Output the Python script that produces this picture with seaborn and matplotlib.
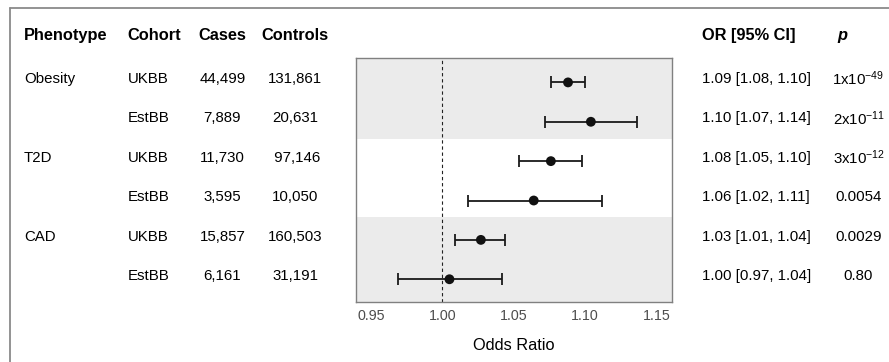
import numpy as np
import pandas as pd
import seaborn as sns
import matplotlib.pyplot as plt
from matplotlib import transforms
from matplotlib.lines import Line2D

# data
phenotype = ["Obesity", "", "T2D", "", "CAD", ""]
cohort = ["UKBB", "EstBB", "UKBB", "EstBB", "UKBB", "EstBB"]
cases = ["44,499", "7,889", "11,730", "3,595", "15,857", "6,161"]
controls = ["131,861", "20,631", " 97,146", "10,050", "160,503", "31,191"]
odds = [1.088, 1.104, 1.076, 1.064, 1.027, 1.005]
lower = [1.076, 1.072, 1.054, 1.018, 1.009, 0.969]
upper = [1.100, 1.136, 1.098, 1.112, 1.044, 1.042]
or_text = ["1.09 [1.08, 1.10]", "1.10 [1.07, 1.14]", "1.08 [1.05, 1.10]",
           "1.06 [1.02, 1.11]", "1.03 [1.01, 1.04]", "1.00 [0.97, 1.04]"]
p_text = ["1x10$^{-49}$", "2x10$^{-11}$", "3x10$^{-12}$", "0.0054", "0.0029", "0.80"]
xticks = [0.95, 1.00, 1.05, 1.10, 1.15]

dat = pd.DataFrame({"odds": odds, "lower": lower, "upper": upper})
dat["row"] = np.arange(len(dat), 0, -1)

sns.set_theme(style="white")
plt.rcParams["font.family"] = ["Liberation Sans", "DejaVu Sans"]
plt.rcParams["text.color"] = "black"
plt.rcParams["mathtext.fontset"] = "custom"
plt.rcParams["mathtext.rm"] = "Liberation Sans"
plt.rcParams["mathtext.default"] = "regular"

fig = plt.figure(figsize=(8.89, 3.62), dpi=100)

# forest panel
ax = fig.add_axes([0.4008, 0.1666, 0.3548, 0.6732])
ax.axhspan(4.56, 7, color="#ebebeb", lw=0, zorder=0)
ax.axhspan(0, 2.58, color="#ebebeb", lw=0, zorder=0)
ax.axvline(1.0, color="#222222", lw=0.8, ls=(0, (3, 2.5)), zorder=1)
ax.errorbar(dat.odds, dat.row, xerr=[dat.odds - dat.lower, dat.upper - dat.odds],
            fmt="none", ecolor="#1a1a1a", elinewidth=1.3, capsize=4, capthick=1.3, zorder=2)
sns.scatterplot(data=dat, x="odds", y="row", color="#111111", s=50,
                edgecolor="none", zorder=3, ax=ax)
ax.set_xlim(0.9398, 1.1606)
ax.set_ylim(0.43, 6.62)
ax.set_xticks(xticks)
ax.set_xticklabels([f"{t:.2f}" for t in xticks])
ax.set_yticks(dat.row)
ax.set_yticklabels([])
ax.set_ylabel("")
ax.set_xlabel("Odds Ratio", fontsize=11.8, color="black", labelpad=11)
ax.tick_params(axis="both", length=3, width=0.8, color="#444444",
               labelsize=10.3, labelcolor="#4d4d4d", pad=2)
for s in ax.spines.values():
    s.set_color("#808080")
    s.set_linewidth(1.0)

# table text
tax = fig.add_axes([0, 0, 1, 1], zorder=-1)
tax.axis("off")
tax.set_ylim(1 - (362 - 276) / 39.3, 6 + 79 / 39.3)
tr = transforms.blended_transform_factory(fig.transFigure, tax.transData)
head_y = 6 + (79 - 35) / 39.3
fs = 10.8
hfs = 11.8

cols = [
    ("Phenotype", phenotype, 24 / 889, "left"),
    ("Cohort", cohort, 127.5 / 889, "left"),
    ("Cases", cases, 222.5 / 889, "center"),
    ("Controls", controls, 295 / 889, "center"),
    ("OR [95% CI]", or_text, 702.3 / 889, "left"),
]
for head, vals, x, ha in cols:
    tax.text(x, head_y, head, transform=tr, ha=ha, va="center",
             fontsize=hfs, fontweight="bold", color="black")
    for r, v in zip(dat.row, vals):
        tax.text(x, r, v, transform=tr, ha=ha, va="center", fontsize=fs, color="black")

tax.text(837 / 889, head_y, "p", transform=tr, ha="left", va="center",
         fontsize=hfs, fontweight="bold", fontstyle="italic", color="black")
for r, v in zip(dat.row, p_text):
    tax.text(858.5 / 889, r, v, transform=tr, ha="center", va="center",
             fontsize=fs, color="black")

# outer frame (top and left edges)
fig.add_artist(Line2D([9.5 / 889, 9.5 / 889], [0, 1 - 8 / 362], color="#8a8a8a", lw=1.3))
fig.add_artist(Line2D([9.5 / 889, 1], [1 - 8 / 362, 1 - 8 / 362], color="#8a8a8a", lw=1.3))

fig.savefig("out.png", dpi=100)
